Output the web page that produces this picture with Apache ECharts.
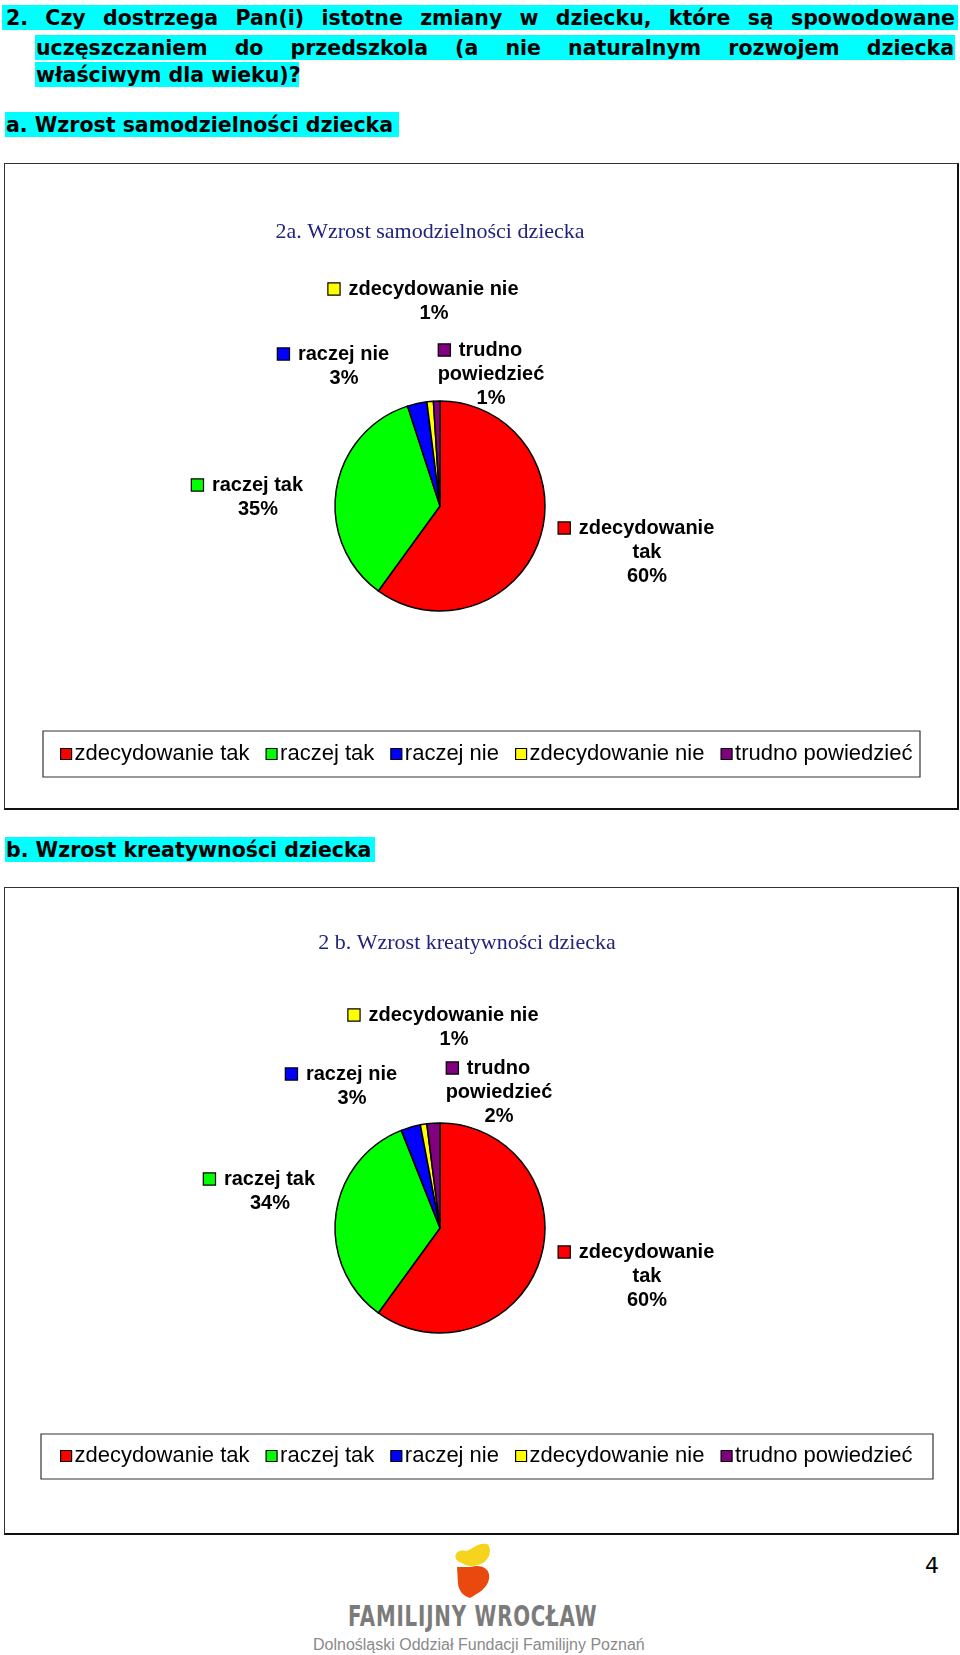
<!DOCTYPE html>
<html><head><meta charset="utf-8">
<script src="https://cdn.jsdelivr.net/npm/echarts@6/dist/echarts.min.js"></script>
<style>
html,body{margin:0;padding:0;background:#fff;}
body{width:960px;height:1655px;position:relative;overflow:hidden;}
.hl{position:absolute;height:25px;line-height:26px;background:#00ffff;font-family:"DejaVu Sans";font-weight:bold;font-size:20.5px;color:#000;white-space:nowrap;box-sizing:border-box;}
.just{text-align:justify;text-align-last:justify;}
.box{position:absolute;box-sizing:border-box;border:1px solid #333;border-right:2px solid #111;border-bottom:2px solid #111;background:#fff;}
.chart{position:absolute;left:0;top:0;}
#pn{position:absolute;left:925px;top:1553px;font-family:"DejaVu Sans";font-size:22px;color:#000;}
#fw{position:absolute;left:348px;top:1601px;width:250px;font-family:"DejaVu Sans Condensed","DejaVu Sans";font-weight:bold;font-size:22px;color:#7b7b7b;letter-spacing:0.8px;transform:scaleY(1.25);transform-origin:left top;white-space:nowrap;}
#fo{position:absolute;left:313px;top:1636px;font-family:"Liberation Sans";font-size:16px;color:#8a8a8a;white-space:nowrap;}
</style></head>
<body>
<div class="hl just" style="left:2px;top:5px;width:956px;padding:0 3px 0 4px;">2. Czy dostrzega Pan(i) istotne zmiany w dziecku, które są spowodowane</div>
<div class="hl just" style="left:35px;top:35px;width:920px;padding:0 1px 0 1px;">uczęszczaniem do przedszkola (a nie naturalnym rozwojem dziecka</div>
<div class="hl" style="left:35px;top:62px;width:264px;padding-left:1px;">właściwym dla wieku)?</div>
<div class="hl" style="left:5px;top:112px;width:394px;padding-left:1px;">a. Wzrost samodzielności dziecka</div>
<div class="box" style="left:4px;top:163px;width:955px;height:647px;"><div id="c1" class="chart" style="width:952px;height:644px;"></div></div>
<div class="hl" style="left:5px;top:837px;width:370px;padding-left:1px;">b. Wzrost kreatywności dziecka</div>
<div class="box" style="left:4px;top:887px;width:955px;height:648px;"><div id="c2" class="chart" style="width:952px;height:645px;"></div></div>
<svg style="position:absolute;left:440px;top:1538px" width="70" height="64" viewBox="440 1538 70 64">
<path d="M462 1563 C451 1560 455 1548 466 1551 C473 1549 478 1542 487 1544 C493 1549 490 1562 478 1565 C471 1567 466 1566 462 1563 Z" fill="#f6d31d"/>
<path d="M457 1567 L471 1567 C480 1564 491 1568 489 1579 C487 1589 478 1593 470 1598 C463 1596 459 1591 458 1584 Z" fill="#e9490f"/>
</svg>
<div id="pn">4</div>
<div id="fw">FAMILIJNY WROCŁAW</div>
<div id="fo">Dolnośląski Oddział Fundacji Familijny Poznań</div>
<script>
// ---- data ----
const categories = ['zdecydowanie tak', 'raczej tak', 'raczej nie', 'zdecydowanie nie', 'trudno powiedzieć'];
const labelLines = [['zdecydowanie', 'tak'], ['raczej tak'], ['raczej nie'], ['zdecydowanie nie'], ['trudno', 'powiedzieć']];
const valuesA = [60, 35, 3, 1, 1];
const valuesB = [60, 34, 3, 1, 2];
const titleA = '2a. Wzrost samodzielności dziecka';
const titleB = '2 b. Wzrost kreatywności dziecka';
const colors = ['#ff0000', '#00ff00', '#0000ff', '#ffff00', '#800080'];

// ---- layout (positions in px inside each chart box) ----
const layoutA = {
  title: [425, 57], center: [435, 342], radius: 105,
  legendBox: [38, 567, 877, 46], legend: [55, 579],
  labels: [[642, 388], [253, 333], [339, 202], [429, 137], [486, 210]]
};
const layoutB = {
  title: [462, 44], center: [435, 340], radius: 105,
  legendBox: [36, 546, 892, 45], legend: [55, 557],
  labels: [[642, 388], [265, 303], [347, 198], [449, 139], [494, 204]]
};

function buildOption(title, values, L) {
  const rich = {
    g: { width: 9, height: 10 },
    pl: { width: 21, height: 10 },
    pr: { width: 21, height: 10, align: 'right' },
    c: { align: 'center', fontSize: 20, fontWeight: 'bold', fontFamily: 'Liberation Sans', color: '#000', lineHeight: 24 }
  };
  colors.forEach((col, i) => {
    rich['sq' + i] = { width: 11, height: 11, backgroundColor: col, borderColor: '#000', borderWidth: 1.2 };
  });
  return {
    animation: false,
    title: {
      text: title, left: L.title[0], top: L.title[1], textAlign: 'center', padding: 0,
      textStyle: { fontFamily: 'Liberation Serif', fontWeight: 'normal', fontSize: 22, color: '#22227f' }
    },
    legend: {
      data: categories, left: L.legend[0], top: L.legend[1], padding: 0,
      icon: 'rect', itemWidth: 11, itemHeight: 11, itemGap: 16,
      itemStyle: { borderColor: '#000', borderWidth: 1.2 },
      textStyle: { fontFamily: 'Liberation Sans', fontSize: 22, color: '#000', padding: [0, 0, 0, -2] }
    },
    graphic: [{
      type: 'rect', shape: { x: L.legendBox[0], y: L.legendBox[1], width: L.legendBox[2], height: L.legendBox[3] },
      style: { fill: 'none', stroke: '#333', lineWidth: 1.2 }, silent: true
    }],
    series: [{
      type: 'pie', center: L.center, radius: L.radius, startAngle: 90, clockwise: true,
      avoidLabelOverlap: false,
      data: categories.map((n, i) => ({ name: n, value: values[i] })),
      itemStyle: { borderColor: '#000', borderWidth: 1.5 },
      color: colors,
      label: {
        show: true, position: 'outside',
        formatter: p => {
          const lines = labelLines[p.dataIndex];
          const out = [];
          lines.forEach((t, k) => {
            if (k === 0) out.push('{sq' + p.dataIndex + '|}{g|}{c|' + t + '}{pr|}');
            else out.push('{pl|}{c|' + t + '}{pr|}');
          });
          out.push('{c|' + Math.round(p.percent) + '%}');
          return out.join('\n');
        },
        rich: rich
      },
      labelLine: { show: false },
      labelLayout: params => {
        const pos = L.labels[params.dataIndex];
        return { x: pos[0], y: pos[1], align: 'center', verticalAlign: 'middle' };
      },
      emphasis: { disabled: true }
    }]
  };
}

const c1 = echarts.init(document.getElementById('c1'), null, { renderer: 'canvas' });
c1.setOption(buildOption(titleA, valuesA, layoutA));
const c2 = echarts.init(document.getElementById('c2'), null, { renderer: 'canvas' });
c2.setOption(buildOption(titleB, valuesB, layoutB));
</script>
</body></html>
